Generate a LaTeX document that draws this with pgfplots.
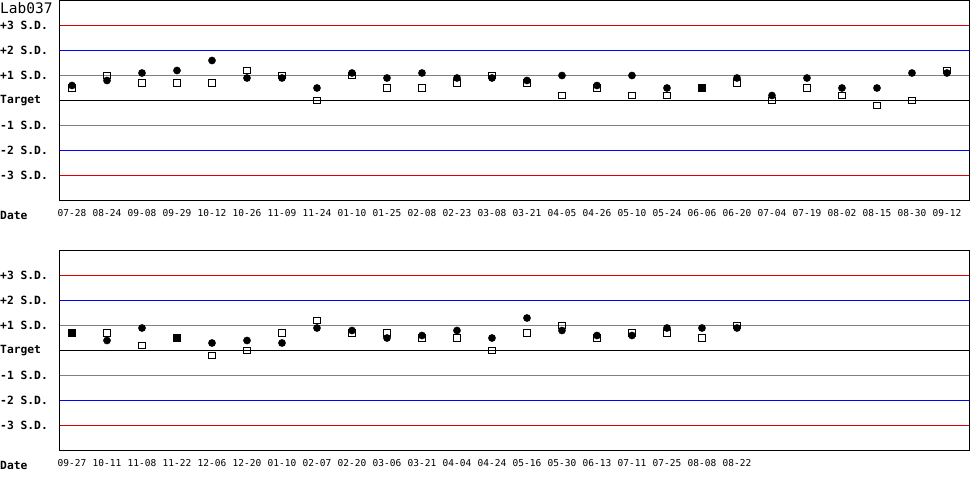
\documentclass[border=0pt]{standalone}
\usepackage{pgfplots}
\pgfplotsset{compat=1.18}
\usepackage{fontspec}
\newfontfamily\mono{DejaVu Sans Mono}
\definecolor{sdred}{RGB}{220,0,0}
\definecolor{sdblue}{RGB}{0,0,255}
\definecolor{sdgray}{RGB}{128,128,128}

% values in S.D. units; dot = first control, sq = second control
\newcommand{\sdlines}{%
  \addplot[sdred, line width=1bp, forget plot] coordinates {(-1,3) (30,3)};
  \addplot[sdred, line width=1bp, forget plot] coordinates {(-1,-3) (30,-3)};
  \addplot[sdblue, line width=1bp, forget plot] coordinates {(-1,2) (30,2)};
  \addplot[sdblue, line width=1bp, forget plot] coordinates {(-1,-2) (30,-2)};
  \addplot[sdgray, line width=1bp, forget plot] coordinates {(-1,1) (30,1)};
  \addplot[sdgray, line width=1bp, forget plot] coordinates {(-1,-1) (30,-1)};
  \addplot[black, line width=1bp, forget plot] coordinates {(-1,0) (30,0)};
}

\pgfplotsset{qcaxis/.style={
  scale only axis, width=909bp, height=200bp, anchor=south west,
  xmin=-0.343, xmax=25.63, ymin=-4, ymax=4,
  axis line style={line width=1bp},
  clip=true,
  major tick length=0pt,
  ytick={-3,-2,-1,0,1,2,3},
  yticklabels={\textbf{-3 S.D.},\textbf{-2 S.D.},\textbf{-1 S.D.},\textbf{Target},\textbf{+1 S.D.},\textbf{+2 S.D.},\textbf{+3 S.D.}},
  yticklabel style={anchor=west, xshift=-60bp, inner sep=0pt,
    font=\mono\fontsize{11.3bp}{13bp}\selectfont},
  xtick={0,...,25},
  xticklabel style={yshift=-9bp, inner sep=0pt,
    font=\mono\fontsize{9.5bp}{11bp}\selectfont},
  dotstyle/.style={only marks, mark=*, mark size=3.6bp, mark options={black, fill=black}},
  sqstyle/.style={only marks, mark=square, mark size=3.4bp, mark options={black, line width=1bp}},
  fsqstyle/.style={only marks, mark=square*, mark size=3.6bp, mark options={black, fill=black}},
}}

\begin{document}
\begin{tikzpicture}
\path[use as bounding box] (0,0) rectangle (970bp,500bp);

\begin{axis}[qcaxis, at={(60bp,299.5bp)},
  xticklabels={07-28,08-24,09-08,09-29,10-12,10-26,11-09,11-24,01-10,01-25,02-08,02-23,03-08,03-21,04-05,04-26,05-10,05-24,06-06,06-20,07-04,07-19,08-02,08-15,08-30,09-12}]
  \sdlines
  \addplot[sqstyle] coordinates {
    (0,0.5) (1,1.0) (2,0.7) (3,0.7) (4,0.7) (5,1.2) (6,1.0) (7,0.0)
    (8,1.0) (9,0.5) (10,0.5) (11,0.7) (12,1.0) (13,0.7) (14,0.2) (15,0.5)
    (16,0.2) (17,0.2) (19,0.7) (20,0.0) (21,0.5) (22,0.2) (23,-0.2)
    (24,0.0) (25,1.2)};
  \addplot[dotstyle] coordinates {
    (0,0.6) (1,0.8) (2,1.1) (3,1.2) (4,1.6) (5,0.9) (6,0.9) (7,0.5)
    (8,1.1) (9,0.9) (10,1.1) (11,0.9) (12,0.9) (13,0.8) (14,1.0) (15,0.6)
    (16,1.0) (17,0.5) (19,0.9) (20,0.2) (21,0.9) (22,0.5) (23,0.5)
    (24,1.1) (25,1.1)};
  \addplot[fsqstyle] coordinates {(18,0.5)};
\end{axis}

\begin{axis}[qcaxis, at={(60bp,49.5bp)},
  xticklabels={09-27,10-11,11-08,11-22,12-06,12-20,01-10,02-07,02-20,03-06,03-21,04-04,04-24,05-16,05-30,06-13,07-11,07-25,08-08,08-22,{},{},{},{},{},{}}]
  \sdlines
  \addplot[sqstyle] coordinates {
    (1,0.7) (2,0.2) (4,-0.2) (5,0.0) (6,0.7) (7,1.2) (8,0.7) (9,0.7)
    (10,0.5) (11,0.5) (12,0.0) (13,0.7) (14,1.0) (15,0.5) (16,0.7)
    (17,0.7) (18,0.5) (19,1.0)};
  \addplot[dotstyle] coordinates {
    (1,0.4) (2,0.9) (4,0.3) (5,0.4) (6,0.3) (7,0.9) (8,0.8) (9,0.5)
    (10,0.6) (11,0.8) (12,0.5) (13,1.3) (14,0.8) (15,0.6) (16,0.6)
    (17,0.9) (18,0.9) (19,0.9)};
  \addplot[fsqstyle] coordinates {(0,0.7) (3,0.5)};
\end{axis}

\node[anchor=west, inner sep=0pt, font=\mono\fontsize{14.5bp}{16bp}\selectfont]
  at (0bp,492bp) {Lab037};
\node[anchor=west, inner sep=0pt, font=\mono\bfseries\fontsize{11.3bp}{13bp}\selectfont]
  at (0bp,285bp) {Date};
\node[anchor=west, inner sep=0pt, font=\mono\bfseries\fontsize{11.3bp}{13bp}\selectfont]
  at (0bp,35bp) {Date};
\end{tikzpicture}
\end{document}
